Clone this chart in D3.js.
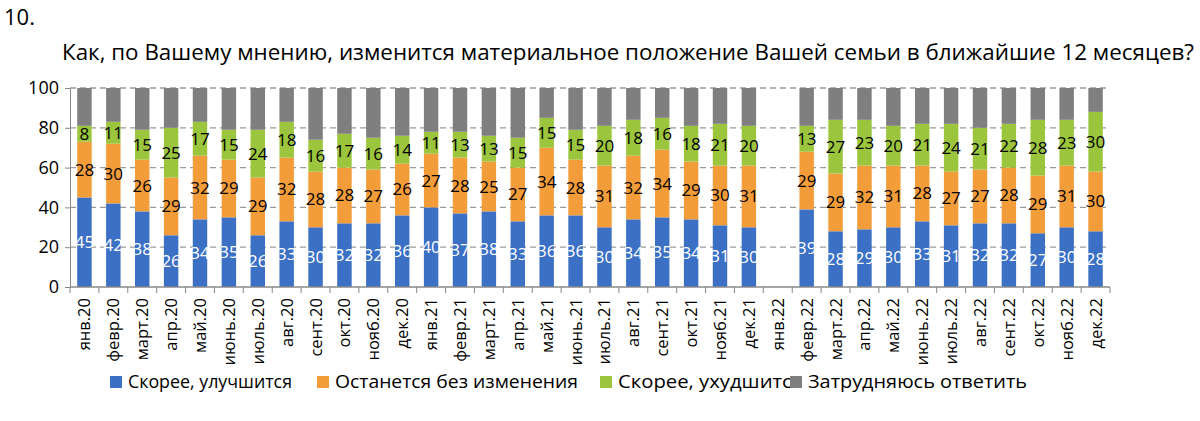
<!DOCTYPE html>
<html><head><meta charset="utf-8">
<script src="https://cdn.jsdelivr.net/npm/d3@7"></script>
<style>body{margin:0;background:#fff;font-family:"Open Sans",Arial,sans-serif}</style>
</head><body><svg id="c" width="1200" height="421"></svg>
<script>
const categories=["янв.20","февр.20","март.20","апр.20","май.20","июнь.20","июль.20","авг.20","сент.20","окт.20","нояб.20","дек.20","янв.21","февр.21","март.21","апр.21","май.21","июнь.21","июль.21","авг.21","сент.21","окт.21","нояб.21","дек.21","янв.22","февр.22","март.22","апр.22","май.22","июнь.22","июль.22","авг.22","сент.22","окт.22","нояб.22","дек.22"];
const better=[45,42,38,26,34,35,26,33,30,32,32,36,40,37,38,33,36,36,30,34,35,34,31,30,null,39,28,29,30,33,31,32,32,27,30,28];
const same=[28,30,26,29,32,29,29,32,28,28,27,26,27,28,25,27,34,28,31,32,34,29,30,31,null,29,29,32,31,28,27,27,28,29,31,30];
const worse=[8,11,15,25,17,15,24,18,16,17,16,14,11,13,13,15,15,15,20,18,16,18,21,20,null,13,27,23,20,21,24,21,22,28,23,30];
const yTicks=[0,20,40,60,80,100];
const seriesNames=["Скорее, улучшится","Останется без изменения","Скорее, ухудшится","Затрудняюсь ответить"];
const colors=["#3B70C4","#F39C3A","#9BC53D","#7F7F7F"];
const labelColors=["#fff","#000","#000",null];

const svg=d3.select("#c");
svg.append("text").attr("x",4).attr("y",25).attr("font-size",22).text("10.");
svg.append("text").attr("x",62).attr("y",60).attr("font-size",21).attr("textLength",1132).attr("lengthAdjust","spacingAndGlyphs").text("Как, по Вашему мнению, изменится материальное положение Вашей семьи в ближайшие 12 месяцев?");

const x=d3.scaleBand().domain(categories).range([70,1110]).paddingInner(0.5).paddingOuter(0.25);
const y=d3.scaleLinear().domain([0,100]).range([287,88]);

svg.append("g").selectAll("line").data(yTicks.slice(1)).join("line")
 .attr("x1",70).attr("x2",1110).attr("y1",d=>y(d)).attr("y2",d=>y(d))
 .attr("stroke","#9a9a9a").attr("stroke-dasharray","6,4").attr("stroke-width",1.3);

const rows=categories.map((c,i)=>{
  if(better[i]==null) return null;
  const g=100-better[i]-same[i]-worse[i];
  return {c,vals:[better[i],same[i],worse[i],g]};
}).filter(Boolean);

rows.forEach(r=>{
  let acc=0;
  r.vals.forEach((v,k)=>{
    const y0=acc, y1=acc+v; acc=y1;
    svg.append("rect").attr("x",x(r.c)).attr("width",x.bandwidth())
      .attr("y",y(y1)).attr("height",y(y0)-y(y1)).attr("fill",colors[k]);
    if(labelColors[k]) svg.append("text").attr("x",x(r.c)+x.bandwidth()/2).attr("y",y((y0+y1)/2)+6)
      .attr("text-anchor","middle").attr("font-size",17).attr("fill",labelColors[k]).text(v);
  });
});

const ya=svg.append("g").attr("transform","translate(70,0)")
 .call(d3.axisLeft(y).tickValues(yTicks).tickSize(5).tickSizeOuter(0));
ya.select(".domain").attr("stroke","#888");
ya.selectAll("line").attr("stroke","#888");
ya.selectAll("text").attr("font-size",18).attr("fill","#000").attr("font-family","Open Sans, Arial").attr("dx",-3);

svg.append("line").attr("x1",70).attr("x2",1110).attr("y1",287).attr("y2",287).attr("stroke","#888").attr("stroke-width",1.3);
svg.append("g").selectAll("line").data(d3.range(categories.length+1)).join("line")
 .attr("x1",d=>70+d*(1040/categories.length)).attr("x2",d=>70+d*(1040/categories.length))
 .attr("y1",287).attr("y2",293).attr("stroke","#888");
svg.append("g").selectAll("text").data(categories).join("text")
 .attr("transform",d=>`translate(${x(d)+x.bandwidth()/2+6},298) rotate(-90)`)
 .attr("text-anchor","end").attr("font-size",16.5).text(d=>d);

const lx=[110,317,600,790];
const lw=[164,243,185,219];
seriesNames.forEach((n,k)=>{
  svg.append("rect").attr("x",lx[k]).attr("y",376).attr("width",12).attr("height",12).attr("fill",colors[k]);
  svg.append("text").attr("x",lx[k]+18).attr("y",388).attr("font-size",18).attr("textLength",lw[k]).attr("lengthAdjust","spacingAndGlyphs").text(n);
});
</script></body></html>
